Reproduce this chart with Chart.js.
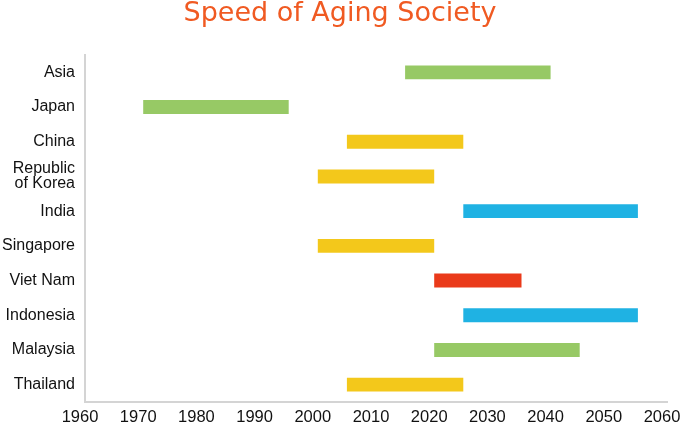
<!DOCTYPE html>
<html>
<head>
<meta charset="utf-8">
<script src="https://cdn.jsdelivr.net/npm/chart.js@4"></script>
<style>
  html, body { margin: 0; padding: 0; background: #fff; }
  #wrap { width: 680px; height: 425px; }
</style>
</head>
<body>
<div id="wrap"><canvas id="myChart"></canvas></div>
<script>
var countries = ['Asia', 'Japan', 'China', ['Republic', 'of Korea'], 'India', 'Singapore', 'Viet Nam', 'Indonesia', 'Malaysia', 'Thailand'];
var startYears = [2015, 1970, 2005, 2000, 2025, 2000, 2020, 2025, 2020, 2005];
var endYears = [2040, 1995, 2025, 2020, 2055, 2020, 2035, 2055, 2045, 2025];
var barColors = ['#97c965', '#97c965', '#f3c81b', '#f3c81b', '#1fb2e3', '#f3c81b', '#ea3a1a', '#1fb2e3', '#97c965', '#f3c81b'];
var yearTicks = [1960, 1970, 1980, 1990, 2000, 2010, 2020, 2030, 2040, 2050, 2060];

var ranges = countries.map(function (c, i) { return [startYears[i], endYears[i]]; });

var ctx = document.getElementById('myChart').getContext('2d');
var myChart = new Chart(ctx, {
  type: 'bar',
  data: {
    labels: countries,
    datasets: [{
      data: ranges,
      backgroundColor: barColors,
      borderWidth: 0,
      barPercentage: 0.4,
      categoryPercentage: 1
    }]
  },
  options: {
    indexAxis: 'y',
    responsive: true,
    maintainAspectRatio: false,
    animation: false,
    layout: { padding: 0 },
    scales: {
      x: {
        min: yearTicks[0],
        max: yearTicks[yearTicks.length - 1],
        afterBuildTicks: function (scale) {
          scale.ticks = yearTicks.map(function (v) { return { value: v }; });
        },
        afterFit: function (scale) {
          // keep the right edge where the original axis ends
          scale.paddingRight = 13;
          scale.height = 23;
        },
        grid: { display: false, drawTicks: false },
        border: { display: true, color: '#d4d4d4', width: 2 },
        ticks: {
          color: '#111',
          padding: 6,
          labelOffset: -5,
          callback: function (v) { return String(v); },
          font: { family: 'Liberation Sans', size: 16.5, lineHeight: 1.1 }
        }
      },
      y: {
        afterFit: function (scale) { scale.width = 85; },
        grid: { display: false, drawTicks: false },
        border: { display: true, color: '#d4d4d4', width: 2 },
        ticks: {
          color: '#111',
          padding: 10,
          font: { family: 'Liberation Sans', size: 16, lineHeight: 0.95 }
        }
      }
    },
    plugins: {
      legend: { display: false },
      tooltip: { enabled: false },
      title: {
        display: true,
        text: 'Speed of Aging Society',
        color: '#f05a22',
        font: { family: 'DejaVu Sans', size: 27, weight: 'normal', lineHeight: 1 },
        padding: { top: 0, bottom: 28 }
      }
    }
  }
});
</script>
</body>
</html>
